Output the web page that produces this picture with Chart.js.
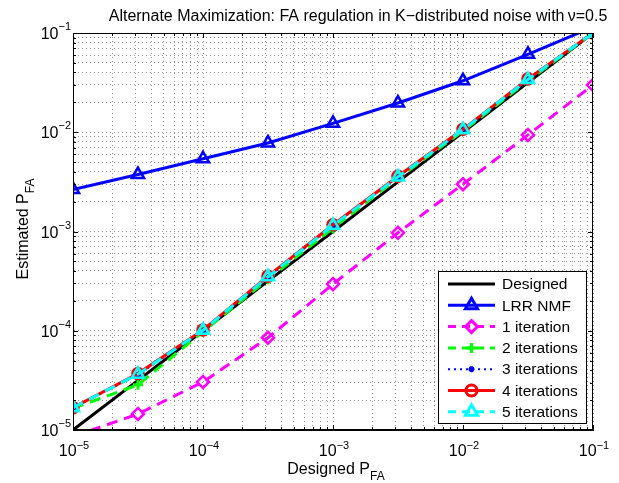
<!DOCTYPE html>
<html>
<head>
<meta charset="utf-8">
<script src="https://cdn.jsdelivr.net/npm/chart.js@4.4.0/dist/chart.umd.min.js"></script>
<style>
html, body { margin: 0; padding: 0; background: #fff; }
canvas { display: block; }
</style>
</head>
<body>
<canvas id="pfaChart" width="619" height="483"></canvas>
<script>
// designed false alarm probability (x)
const designedPfa = [1e-5, 3.16e-5, 1e-4, 3.16e-4, 1e-3, 3.16e-3, 1e-2, 3.16e-2, 1e-1];
// estimated PFA per method
const designed = [1e-5, 3.16e-5, 1e-4, 3.16e-4, 1e-3, 3.16e-3, 1e-2, 3.16e-2, 1e-1];
const lrrNmf = [2.65e-3, 3.75e-3, 5.4e-3, 7.8e-3, 1.23e-2, 1.97e-2, 3.3e-2, 6.1e-2, 0.115];
const iter1 = [8.6e-6, 1.45e-5, 3.05e-5, 8.5e-5, 2.95e-4, 9.7e-4, 3.0e-3, 9.4e-3, 3.0e-2];
const iter2 = [1.65e-5, 2.85e-5, 0.98e-4, 3.3e-4, 1.08e-3, 3.45e-3, 1.03e-2, 3.3e-2, 1.0e-1];
const iter3 = [1.68e-5, 3.6e-5, 1.0e-4, 3.45e-4, 1.15e-3, 3.55e-3, 1.06e-2, 3.4e-2, 1.0e-1];
const iter4 = [1.68e-5, 3.7e-5, 1.02e-4, 3.55e-4, 1.17e-3, 3.6e-3, 1.07e-2, 3.45e-2, 1.0e-1];
const iter5 = [1.68e-5, 3.65e-5, 1.01e-4, 3.5e-4, 1.15e-3, 3.55e-3, 1.06e-2, 3.4e-2, 1.0e-1];

const decades = [1e-5, 1e-4, 1e-3, 1e-2, 1e-1];
const decadeExp = ['\u22125', '\u22124', '\u22123', '\u22122', '\u22121'];
const minorSteps = [1, 2, 3, 4, 5, 6, 7, 8, 9];

const FONT = '"Liberation Sans", Arial, Helvetica, sans-serif';

function pts(ys) {
    return designedPfa.map((x, i) => ({ x: x, y: ys[i] }));
}

// grid at 1..9 x 10^n like matlab
const gridValues = [];
decades.forEach((d, i) => {
    if (i === decades.length - 1) { gridValues.push(d); return; }
    minorSteps.forEach(s => gridValues.push(+(s * d).toPrecision(3)));
});

function setTicks(scale) {
    scale.ticks = gridValues.map(v => ({ value: v, major: decades.includes(v) }));
}

const matlabFrame = {
    id: 'matlabFrame',
    afterDraw(chart) {
        const ctx = chart.ctx;
        const a = chart.chartArea;
        const xs = chart.scales.x, ys = chart.scales.y;
        ctx.save();
        // box
        ctx.strokeStyle = '#000';
        ctx.lineWidth = 1;
        ctx.strokeRect(Math.round(a.left) + 0.5, Math.round(a.top) + 0.5,
            Math.round(a.right - a.left) - 1, Math.round(a.bottom - a.top) - 1);
        // inward ticks on all sides
        ctx.beginPath();
        gridValues.forEach(v => {
            const len = decades.includes(v) ? 5 : 3;
            const px = Math.round(xs.getPixelForValue(v)) + 0.5;
            ctx.moveTo(px, a.bottom); ctx.lineTo(px, a.bottom - len);
            ctx.moveTo(px, a.top); ctx.lineTo(px, a.top + len);
            const py = Math.round(ys.getPixelForValue(v)) + 0.5;
            ctx.moveTo(a.left, py); ctx.lineTo(a.left + len, py);
            ctx.moveTo(a.right, py); ctx.lineTo(a.right - len, py);
        });
        ctx.stroke();

        // tick labels 10^-n
        ctx.fillStyle = '#000';
        ctx.textBaseline = 'alphabetic';
        ctx.textAlign = 'left';
        decades.forEach((d, i) => {
            ctx.font = '16px ' + FONT;
            const wb = ctx.measureText('10').width;
            ctx.font = '11px ' + FONT;
            const ws = ctx.measureText(decadeExp[i]).width;
            // x axis
            const px = xs.getPixelForValue(d);
            const sx = px - (wb + ws) / 2 + 1;
            ctx.font = '16px ' + FONT;
            ctx.fillText('10', sx, 456);
            ctx.font = '11px ' + FONT;
            ctx.fillText(decadeExp[i], sx + wb, 449);
            // y axis
            const py = ys.getPixelForValue(d);
            const ex = a.left - 2 - ws;
            ctx.font = '16px ' + FONT;
            ctx.fillText('10', ex - wb, py + 6);
            ctx.font = '11px ' + FONT;
            ctx.fillText(decadeExp[i], ex, py - 3);
        });

        // title
        ctx.font = '16px ' + FONT;
        ctx.textAlign = 'center';
        ctx.fillText('Alternate Maximization: FA regulation in K\u2212distributed noise with\u2009\u03bd=0.5', 358, 21);

        // axis titles with subscript
        function subLabel(main, sub, cx, cy) {
            ctx.font = '16px ' + FONT;
            const wm = ctx.measureText(main).width;
            ctx.font = '12px ' + FONT;
            const wsub = ctx.measureText(sub).width;
            const start = cx - (wm + wsub) / 2;
            ctx.textAlign = 'left';
            ctx.font = '16px ' + FONT;
            ctx.fillText(main, start, cy);
            ctx.font = '12px ' + FONT;
            ctx.fillText(sub, start + wm, cy + 6);
        }
        subLabel('Designed P', 'FA', 336, 474);
        ctx.save();
        ctx.translate(28, 229);
        ctx.rotate(-Math.PI / 2);
        subLabel('Estimated P', 'FA', 0, 0);
        ctx.restore();

        // legend box
        const lx = 438, ly = 271, lw = 148, lh = 152;
        ctx.fillStyle = '#fff';
        ctx.fillRect(lx, ly, lw, lh);
        ctx.strokeStyle = '#000';
        ctx.lineWidth = 1;
        ctx.strokeRect(lx + 0.5, ly + 0.5, lw, lh);
        chart.data.datasets.forEach((ds, i) => {
            const y = 284 + i * 21.3;
            ctx.save();
            ctx.strokeStyle = ds.borderColor;
            ctx.lineWidth = ds.borderWidth;
            ctx.setLineDash(ds.legendDash || []);
            ctx.beginPath();
            ctx.moveTo(448, y); ctx.lineTo(495, y);
            ctx.stroke();
            ctx.setLineDash([]);
            if (ds.pointRadius && ds.pointStyle) {
                ctx.strokeStyle = ds.pointBorderColor || ds.borderColor;
                ctx.fillStyle = 'rgba(0,0,0,0)';
                Chart.helpers.drawPoint(ctx, {
                    pointStyle: ds.pointStyle, rotation: 0,
                    radius: Array.isArray(ds.pointRadius) ? ds.pointRadius[1] : ds.pointRadius,
                    borderWidth: ds.pointBorderWidth
                }, 471.5, y);
            }
            ctx.restore();
            ctx.fillStyle = '#000';
            ctx.font = '15.5px ' + FONT;
            ctx.textAlign = 'left';
            ctx.textBaseline = 'middle';
            ctx.fillText(ds.label, 502, y + 1);
        });
        ctx.restore();
    }
};

const ctx = document.getElementById('pfaChart').getContext('2d');
const chart = new Chart(ctx, {
    type: 'line',
    data: {
        datasets: [
            {
                label: 'Designed', data: pts(designed), order: 7,
                borderColor: '#000', borderWidth: 3, pointRadius: 0
            },
            {
                label: 'LRR NMF', data: pts(lrrNmf), order: 6,
                borderColor: '#0000ff', borderWidth: 3,
                pointStyle: 'triangle', pointRadius: [7, 7, 7, 7, 7, 7, 7, 7, 0],
                pointBorderWidth: 2.5, pointBackgroundColor: 'rgba(0,0,0,0)'
            },
            {
                label: '1 iteration', data: pts(iter1), order: 5,
                borderColor: '#ff00ff', borderWidth: 3, borderDash: [11, 7], legendDash: [8, 6],
                pointStyle: 'rectRot', pointRadius: 6,
                pointBorderWidth: 2.5, pointBackgroundColor: 'rgba(0,0,0,0)'
            },
            {
                label: '2 iterations', data: pts(iter2), order: 4,
                borderColor: '#00ff00', borderWidth: 3, borderDash: [11, 7], legendDash: [8, 6],
                pointStyle: 'cross', pointRadius: 5,
                pointBorderWidth: 3, pointBackgroundColor: 'rgba(0,0,0,0)'
            },
            {
                label: '3 iterations', data: pts(iter3), order: 3,
                borderColor: '#0000ff', borderWidth: 2, borderDash: [2, 4], legendDash: [2, 4],
                pointStyle: 'star', pointRadius: 3,
                pointBorderWidth: 2, pointBackgroundColor: 'rgba(0,0,0,0)'
            },
            {
                label: '4 iterations', data: pts(iter4), order: 2,
                borderColor: '#ff0000', borderWidth: 3,
                pointStyle: 'circle', pointRadius: 5.5,
                pointBorderWidth: 2.5, pointBackgroundColor: 'rgba(0,0,0,0)'
            },
            {
                label: '5 iterations', data: pts(iter5), order: 1,
                borderColor: '#00ffff', borderWidth: 3, borderDash: [11, 7], legendDash: [8, 6],
                pointStyle: 'triangle', pointRadius: 7,
                pointBorderWidth: 2.5, pointBackgroundColor: 'rgba(0,0,0,0)'
            }
        ]
    },
    options: {
        responsive: false,
        animation: false,
        layout: { padding: { left: 73, top: 33, right: 26, bottom: 53 } },
        plugins: {
            legend: { display: false },
            title: { display: false },
            tooltip: { enabled: false }
        },
        elements: { line: { tension: 0 } },
        scales: {
            x: {
                type: 'logarithmic', min: 1e-5, max: 1e-1,
                afterBuildTicks: setTicks,
                ticks: { display: false },
                grid: { color: 'rgba(0,0,0,0.42)', lineWidth: 1, drawTicks: false },
                border: { display: true, color: '#000', width: 1, dash: [1, 3] }
            },
            y: {
                type: 'logarithmic', min: 1e-5, max: 1e-1,
                afterBuildTicks: setTicks,
                ticks: { display: false },
                grid: { color: 'rgba(0,0,0,0.42)', lineWidth: 1, drawTicks: false },
                border: { display: true, color: '#000', width: 1, dash: [1, 3] }
            }
        }
    },
    plugins: [matlabFrame]
});
</script>
</body>
</html>
